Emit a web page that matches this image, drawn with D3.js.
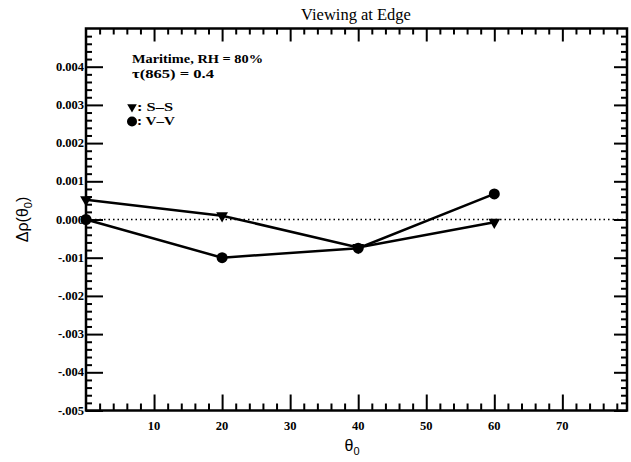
<!DOCTYPE html>
<html>
<head>
<meta charset="utf-8">
<script src="https://cdn.jsdelivr.net/npm/d3@7"></script>
<style>
  html, body { margin: 0; padding: 0; background: #fff; }
  svg { display: block; }
</style>
</head>
<body>
<svg id="chart" width="631" height="462"></svg>
<script>
// Solar zenith angle (degrees) of each computed case
const theta0 = [0, 20, 40, 60];
// Reflectance differences for the two polarization configurations
const ssValues = [0.00052, 0.00010, -0.00073, -0.00007];
const vvValues = [0.00000, -0.00100, -0.00075, 0.00067];
// Axis tick values and their printed labels
const xTickValues = [10, 20, 30, 40, 50, 60, 70];
const yTickValues = [0.004, 0.003, 0.002, 0.001, 0.000, -0.001, -0.002, -0.003, -0.004, -0.005];
const yTickLabels = ["0.004", "0.003", "0.002", "0.001", "0.000", "-.001", "-.002", "-.003", "-.004", "-.005"];

(function () {
const svg = d3.select("#chart");
const pLeft = 86, pRight = 627, pTop = 28.5, pBottom = 410.5;

const x = d3.scaleLinear().domain([0, 79.5]).range([pLeft, pRight]);
const y = d3.scaleLinear().domain([-0.005, 0.005]).range([pBottom, pTop]);

const serif = "'Liberation Serif', 'DejaVu Serif', serif";
const sans = "'Liberation Sans', Arial, sans-serif";

// Minor tick positions
const xMinor = d3.range(2, 80, 2).filter(v => v % 10 !== 0);
const yMinor = d3.range(-50, 51, 2).map(v => v / 10000).filter(v => Math.abs(Math.round(v * 10000)) % 10 !== 0);

const axes = svg.append("g").attr("stroke", "#000").attr("fill", "none");

function tickGroup(axisFn, pos, values, size) {
  const g = axes.append("g").attr("transform", pos)
    .call(axisFn.tickValues(values).tickSize(size).tickFormat(""));
  g.select(".domain").remove();
  g.selectAll("line").attr("stroke-width", 2);
}

// Bottom axis
tickGroup(d3.axisBottom(x), `translate(0,${pBottom})`, xTickValues, -16);
tickGroup(d3.axisBottom(x), `translate(0,${pBottom})`, xMinor, -7);
// Top axis
tickGroup(d3.axisTop(x), `translate(0,${pTop})`, xTickValues, -13);
tickGroup(d3.axisTop(x), `translate(0,${pTop})`, xMinor, -6);
// Left axis
tickGroup(d3.axisLeft(y), `translate(${pLeft},0)`, yTickValues, -17);
tickGroup(d3.axisLeft(y), `translate(${pLeft},0)`, yMinor, -6);
// Right axis
tickGroup(d3.axisRight(y), `translate(${pRight},0)`, yTickValues, -13);
tickGroup(d3.axisRight(y), `translate(${pRight},0)`, yMinor, -6);

// Frame
svg.append("rect")
  .attr("x", pLeft).attr("y", pTop)
  .attr("width", pRight - pLeft).attr("height", pBottom - pTop)
  .attr("fill", "none").attr("stroke", "#000").attr("stroke-width", 2.5);

// Tick labels
svg.append("g").selectAll("text").data(xTickValues).join("text")
  .attr("x", d => x(d)).attr("y", pBottom + 19)
  .attr("text-anchor", "middle")
  .attr("font-family", serif).attr("font-weight", "bold").attr("font-size", 12.5)
  .text(d => d);

svg.append("g").selectAll("text").data(yTickValues).join("text")
  .attr("x", pLeft - 2).attr("y", d => y(d) + 4)
  .attr("text-anchor", "end")
  .attr("font-family", serif).attr("font-weight", "bold").attr("font-size", 12.5)
  .text((d, i) => yTickLabels[i]);

// Zero reference line
svg.append("line")
  .attr("x1", x(0)).attr("x2", x(79.5))
  .attr("y1", y(0)).attr("y2", y(0))
  .attr("stroke", "#000").attr("stroke-width", 1.5)
  .attr("stroke-dasharray", "1.5,3");

// Data lines
const line = d3.line().x((d, i) => x(theta0[i])).y(d => y(d));
svg.append("path").datum(ssValues).attr("d", line)
  .attr("fill", "none").attr("stroke", "#000").attr("stroke-width", 2.5);
svg.append("path").datum(vvValues).attr("d", line)
  .attr("fill", "none").attr("stroke", "#000").attr("stroke-width", 2.5);

// Markers
const tri = d3.symbol().type(d3.symbolTriangle).size(60);
svg.append("g").selectAll("path").data(ssValues).join("path")
  .attr("d", tri)
  .attr("transform", (d, i) => `translate(${x(theta0[i])},${y(d)}) rotate(180)`)
  .attr("fill", "#000");
svg.append("g").selectAll("circle").data(vvValues).join("circle")
  .attr("cx", (d, i) => x(theta0[i])).attr("cy", d => y(d))
  .attr("r", 5.5).attr("fill", "#000");

// Title
svg.append("text")
  .attr("x", 356).attr("y", 20)
  .attr("text-anchor", "middle")
  .attr("font-family", serif).attr("font-size", 16.5)
  .text("Viewing at Edge");

// Annotation
const note = svg.append("g")
  .attr("font-family", serif).attr("font-weight", "bold").attr("font-size", 13);
note.append("text").attr("x", 132).attr("y", 63)
  .attr("textLength", 131).attr("lengthAdjust", "spacingAndGlyphs")
  .text("Maritime, RH = 80%");
note.append("text").attr("x", 132).attr("y", 78)
  .attr("textLength", 82).attr("lengthAdjust", "spacingAndGlyphs")
  .text("τ(865) = 0.4");

// Legend
const legend = svg.append("g")
  .attr("font-family", serif).attr("font-weight", "bold").attr("font-size", 13.5);
legend.append("path")
  .attr("d", d3.symbol().type(d3.symbolTriangle).size(40))
  .attr("transform", "translate(132,107) rotate(180)");
legend.append("text").attr("x", 137).attr("y", 111)
  .attr("textLength", 36).attr("lengthAdjust", "spacingAndGlyphs").text(": S–S");
legend.append("circle").attr("cx", 132).attr("cy", 121.5).attr("r", 5);
legend.append("text").attr("x", 137).attr("y", 125)
  .attr("textLength", 38).attr("lengthAdjust", "spacingAndGlyphs").text(": V–V");

// Axis titles
const yTitle = svg.append("text")
  .attr("transform", `translate(28,${y(0)}) rotate(-90)`)
  .attr("text-anchor", "middle")
  .attr("font-family", sans).attr("font-size", 16);
yTitle.append("tspan").text("Δρ(θ");
yTitle.append("tspan").attr("font-size", 11).attr("dy", 4).text("0");
yTitle.append("tspan").attr("dy", -4).text(")");

const xTitle = svg.append("text")
  .attr("x", 352).attr("y", 451)
  .attr("text-anchor", "middle")
  .attr("font-family", sans).attr("font-size", 16);
xTitle.append("tspan").text("θ");
xTitle.append("tspan").attr("font-size", 11).attr("dy", 4).text("0");
})();
</script>
</body>
</html>
